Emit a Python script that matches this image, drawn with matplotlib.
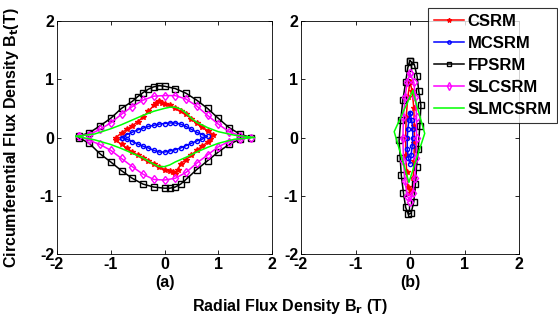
import matplotlib
matplotlib.use("Agg")
import matplotlib.pyplot as plt
import numpy as np

plt.rcParams['font.family'] = ['Liberation Sans', 'DejaVu Sans']
plt.rcParams['font.weight'] = 'bold'
plt.rcParams['axes.unicode_minus'] = False

# ---- (a) loops: upper branch (left->right) then lower branch (right->left) ----
csrm_a_x = [-0.9, -0.8, -0.7, -0.6, -0.5, -0.4, -0.3, -0.2, -0.15, -0.1, -0.05, 0.0, 0.1, 0.2, 0.3, 0.4, 0.5, 0.6, 0.7, 0.8, 0.9,
            0.85, 0.8, 0.7, 0.6, 0.5, 0.4, 0.3, 0.25, 0.2, 0.15, 0.1, 0.0, -0.1, -0.2, -0.3, -0.4, -0.5, -0.6, -0.7, -0.8, -0.9]
csrm_a_y = [0.0, 0.08, 0.14, 0.2, 0.27, 0.35, 0.45, 0.55, 0.6, 0.63, 0.6, 0.58, 0.55, 0.5, 0.45, 0.4, 0.32, 0.25, 0.18, 0.12, 0.05,
            -0.02, -0.08, -0.15, -0.22, -0.3, -0.38, -0.45, -0.55, -0.62, -0.6, -0.57, -0.55, -0.5, -0.45, -0.4, -0.35, -0.3, -0.25, -0.18, -0.12, -0.05]

mcsrm_a_x = [-0.8, -0.7, -0.6, -0.5, -0.4, -0.3, -0.2, -0.1, 0.0, 0.1, 0.2, 0.3, 0.4, 0.5, 0.6, 0.7, 0.8,
             0.7, 0.6, 0.5, 0.4, 0.3, 0.2, 0.1, 0.0, -0.1, -0.2, -0.3, -0.4, -0.5, -0.6, -0.7, -0.8]
mcsrm_a_y = [0.0, 0.05, 0.09, 0.13, 0.16, 0.19, 0.21, 0.23, 0.24, 0.25, 0.25, 0.23, 0.19, 0.14, 0.09, 0.05, 0.02,
             -0.03, -0.06, -0.1, -0.14, -0.18, -0.21, -0.23, -0.25, -0.25, -0.22, -0.18, -0.15, -0.11, -0.07, -0.03, 0.0]

fpsrm_a_x = [-1.6, -1.4, -1.2, -1.0, -0.8, -0.6, -0.5, -0.4, -0.3, -0.2, -0.1, 0.0, 0.2, 0.4, 0.6, 0.8, 1.0, 1.2, 1.4, 1.6,
             1.4, 1.2, 1.0, 0.8, 0.6, 0.4, 0.3, 0.2, 0.1, 0.0, -0.2, -0.4, -0.6, -0.8, -1.0, -1.2, -1.4, -1.6]
fpsrm_a_y = [0.02, 0.08, 0.2, 0.33, 0.5, 0.62, 0.7, 0.77, 0.83, 0.87, 0.89, 0.88, 0.84, 0.76, 0.64, 0.5, 0.33, 0.17, 0.06, 0.0,
             -0.03, -0.12, -0.25, -0.4, -0.55, -0.72, -0.8, -0.85, -0.87, -0.87, -0.85, -0.8, -0.7, -0.57, -0.42, -0.28, -0.1, 0.0]

slcsrm_a_x = [-1.6, -1.4, -1.2, -1.0, -0.8, -0.6, -0.4, -0.2, 0.0, 0.2, 0.4, 0.6, 0.8, 1.0, 1.2, 1.4, 1.6,
              1.4, 1.2, 1.0, 0.8, 0.6, 0.4, 0.2, 0.0, -0.2, -0.4, -0.6, -0.8, -1.0, -1.2, -1.4, -1.6]
slcsrm_a_y = [0.03, 0.05, 0.14, 0.25, 0.4, 0.53, 0.64, 0.71, 0.72, 0.72, 0.66, 0.54, 0.38, 0.23, 0.1, 0.03, 0.0,
              -0.02, -0.07, -0.16, -0.3, -0.44, -0.6, -0.7, -0.73, -0.72, -0.63, -0.5, -0.36, -0.22, -0.12, -0.05, 0.03]

slmcsrm_a_x = [-1.65, -1.3, -1.0, -0.8, -0.6, -0.4, -0.2, 0.0, 0.1, 0.2, 0.3, 0.4, 0.5, 0.6, 0.8, 1.0, 1.3, 1.68,
               1.3, 1.0, 0.8, 0.6, 0.4, 0.2, 0.1, 0.0, -0.1, -0.2, -0.4, -0.6, -0.8, -1.0, -1.3, -1.65]
slmcsrm_a_y = [0.02, 0.06, 0.15, 0.22, 0.3, 0.38, 0.45, 0.5, 0.52, 0.52, 0.49, 0.42, 0.33, 0.26, 0.17, 0.1, 0.04, 0.0,
               -0.03, -0.1, -0.17, -0.25, -0.34, -0.42, -0.47, -0.5, -0.5, -0.46, -0.35, -0.27, -0.19, -0.12, -0.04, 0.02]

# ---- (b) loops: right branch (top->bottom) then left branch (bottom->top) ----
csrm_b_x = [0.0, 0.04, 0.07, 0.08, 0.08, 0.07, 0.06, 0.04, 0.0, -0.04, -0.06, -0.08, -0.08, -0.07, -0.04, 0.0]
csrm_b_y = [0.95, 0.8, 0.5, 0.2, -0.1, -0.4, -0.7, -0.9, -0.95, -0.85, -0.6, -0.3, 0.0, 0.35, 0.7, 0.95]

mcsrm_b_x = [0.0, 0.03, 0.05, 0.05, 0.04, 0.02, 0.0, -0.03, -0.05, -0.05, -0.04, -0.02, 0.0]
mcsrm_b_y = [0.42, 0.3, 0.15, 0.0, -0.15, -0.3, -0.45, -0.35, -0.2, 0.0, 0.15, 0.3, 0.42]

fpsrm_b_x = [0.0, 0.08, 0.13, 0.16, 0.2, 0.18, 0.15, 0.12, 0.1, 0.07, 0.02, -0.03, -0.08, -0.12, -0.16, -0.18, -0.2, -0.17, -0.13, -0.08, -0.04, 0.0]
fpsrm_b_y = [1.32, 1.25, 1.05, 0.8, 0.55, 0.2, -0.2, -0.5, -0.8, -1.1, -1.3, -1.32, -1.2, -0.95, -0.65, -0.35, -0.05, 0.3, 0.65, 0.95, 1.2, 1.32]

slcsrm_b_x = [0.0, 0.07, 0.1, 0.12, 0.12, 0.11, 0.09, 0.05, 0.0, -0.05, -0.09, -0.12, -0.13, -0.12, -0.09, -0.05, 0.0]
slcsrm_b_y = [1.1, 0.95, 0.7, 0.35, 0.0, -0.35, -0.7, -0.95, -1.1, -1.0, -0.75, -0.4, 0.0, 0.35, 0.7, 0.95, 1.1]

slmcsrm_b_x = [0.05, 0.27, -0.02, -0.29, 0.05]
slmcsrm_b_y = [0.8, 0.07, -0.77, 0.1, 0.8]

series = [
    ("CSRM", "#ff0000", "*", 4, (csrm_a_x, csrm_a_y), (csrm_b_x, csrm_b_y)),
    ("MCSRM", "#0000ff", "o", 3, (mcsrm_a_x, mcsrm_a_y), (mcsrm_b_x, mcsrm_b_y)),
    ("FPSRM", "#000000", "s", 4, (fpsrm_a_x, fpsrm_a_y), (fpsrm_b_x, fpsrm_b_y)),
    ("SLCSRM", "#ff00ff", "d", 4.5, (slcsrm_a_x, slcsrm_a_y), (slcsrm_b_x, slcsrm_b_y)),
    ("SLMCSRM", "#00ff00", None, 0, (slmcsrm_a_x, slmcsrm_a_y), (slmcsrm_b_x, slmcsrm_b_y)),
]

fig = plt.figure(figsize=(5.58, 3.22), dpi=100)
ax1 = fig.add_axes([57 / 558, 1 - 254 / 322, 215 / 558, 233 / 322])
ax2 = fig.add_axes([301 / 558, 1 - 254 / 322, 218 / 558, 233 / 322])

for ax, idx in ((ax1, 4), (ax2, 5)):
    for s in series:
        name, col, mk, ms = s[0], s[1], s[2], s[3]
        x, y = s[idx]
        if mk is None:
            ax.plot(x, y, color=col, lw=1.1, label=name)
        else:
            ax.plot(x, y, color=col, lw=1.1, marker=mk, markersize=ms,
                    markerfacecolor="none" if mk in ("s", "d", "o") else col,
                    markeredgewidth=1.0, label=name)
    ax.set_xlim(-2, 2)
    ax.set_ylim(-2, 2)
    ax.set_xticks([-2, -1, 0, 1, 2])
    ax.set_yticks([-2, -1, 0, 1, 2])
    ax.tick_params(direction="in", top=True, right=True, labelsize=11.5, length=3, width=0.6, pad=2)
    for lab in ax.get_xticklabels() + ax.get_yticklabels():
        lab.set_fontweight("bold")
    for sp in ax.spines.values():
        sp.set_linewidth(0.6)

ax1.set_xlabel("(a)", fontsize=11.5, fontweight="bold", labelpad=2)
ax2.set_xlabel("(b)", fontsize=11.5, fontweight="bold", labelpad=2)

fig.text(290 / 558, 1 - 307 / 322, "Radial Flux Density B$_\\mathbf{r}$ (T)", ha="center", va="center",
         fontsize=11.5, fontweight="bold")
fig.text(12 / 558, 1 - 138 / 322, "Circumferential Flux Density B$_\\mathbf{t}$(T)", ha="center", va="center",
         rotation=90, fontsize=11.5, fontweight="bold")

handles, labels = ax2.get_legend_handles_labels()
leg = fig.legend(handles, labels, loc="upper right", bbox_to_anchor=(0.999, 1 - 8 / 322),
                 fontsize=12, frameon=True, fancybox=False, edgecolor="black",
                 handlelength=1.8, handletextpad=0.2, borderpad=0.35, labelspacing=0.42,
                 borderaxespad=0, markerscale=0.8)
leg.get_frame().set_linewidth(0.8)
for t in leg.get_texts():
    t.set_fontweight("bold")

plt.savefig("out.png", dpi=100)
